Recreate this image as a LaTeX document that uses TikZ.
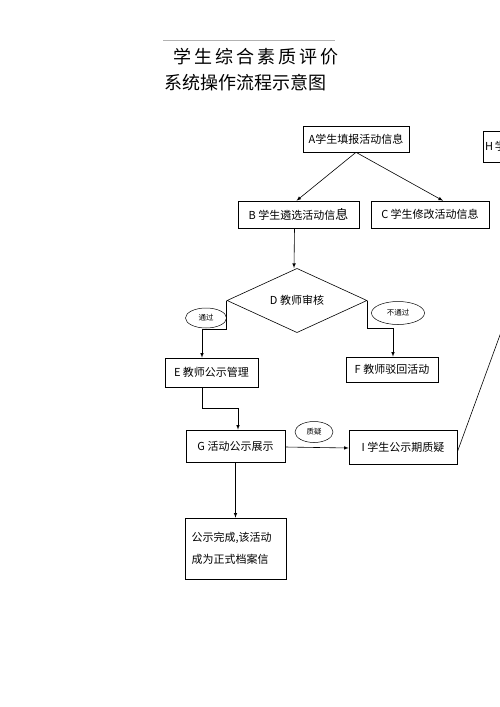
\documentclass[tikz,border=0pt]{standalone}
\usepackage{fontspec}
\setmainfont{Noto Sans CJK SC}
\usetikzlibrary{shapes.geometric, arrows}
\tikzstyle{process} = [rectangle, minimum width=100pt, minimum height=27pt, inner sep=0pt, text centered, draw=black, line width=0.6pt, font=\fontsize{11}{13}\selectfont]
\tikzstyle{decision} = [diamond, minimum width=140pt, minimum height=55pt, inner sep=0pt, text centered, draw=black, line width=0.6pt, font=\fontsize{11}{13}\selectfont]
\tikzstyle{remark} = [ellipse, inner sep=0pt, draw=black, line width=0.5pt, font=\fontsize{7.5}{9}\selectfont]
\tikzstyle{arrow} = [line width=0.6pt,->,>=latex]

\begin{document}
\begin{tikzpicture}[x=1pt, y=-1pt]
			\useasboundingbox (0,0) rectangle (500,707);
			\clip (0,0) rectangle (500,707);
			% title
			\draw [gray!60, line width=0.5pt] (163,40) -- (335,40);
			\node (title1) [anchor=west, inner sep=0pt, font=\fontsize{18}{20}\selectfont] at (173,57) {学\,生\,综\,合\,素\,质\,评\,价};
			\node (title2) [anchor=west, inner sep=0pt, font=\fontsize{18}{20}\selectfont] at (164,83) {系统操作流程示意图};

			\node (a) [process, minimum width=106pt, minimum height=26pt] at (356,139) {A学生填报活动信息};
			\node (b) [process, minimum width=121pt] at (298.5,214.5) {B 学生遴选活动信{\fontsize{13}{13}\selectfont 息}};
			\node (c) [process, minimum width=118pt] at (430,214.5) {C 学生修改活动信息};
			\node (h) [process, minimum width=160pt, minimum height=31pt, text width=156pt, align=left] at (563,146.5) {H\,学生};
			\node (d) [decision] at (297,300.5) {D 教师审核};
			\node (pass) [remark, minimum width=41pt, minimum height=20pt] at (206,318) {通过};
			\node (fail) [remark, minimum width=53pt, minimum height=23pt] at (398,313) {不通过};
			\node (e) [process, minimum width=93pt, minimum height=29pt] at (211.5,372.5) {E 教师公示管理};
			\node (f) [process, minimum width=92pt, minimum height=25pt] at (392,369.5) {F 教师驳回活动};
			\node (g) [process, minimum width=99pt, minimum height=32pt] at (235.5,446) {G 活动公示展示};
			\node (i) [process, minimum width=108pt, minimum height=34pt] at (403,447) {I 学生公示期质疑};
			\node (doubt) [remark, minimum width=38pt, minimum height=21pt] at (314,432) {质疑};
			\node (done) [process, minimum width=101pt, minimum height=61pt, text width=88pt, align=left] at (235.5,548.5) {公示完成,该活动\\[9pt]成为正式档案信};

			\draw [arrow] (a.south) -- ([xshift=-2pt]b.north);
			\draw [arrow] (a.south) -- ([xshift=13pt]c.north);
			\draw [arrow] ([xshift=-4pt]b.south) -- ([xshift=-3pt]d.north);
			\draw [arrow] (d.west) -- ++(0,29) -| ([xshift=-9.5pt]e.north);
			\draw [arrow] (d.east) -- ++(0,28) -| ([xshift=1pt]f.north);
			\draw [arrow] ([xshift=-9.5pt]e.south) -- ++(0,21) -| ([xshift=2.5pt]g.north);
			\draw [arrow] ([yshift=-1pt]g.east) -- ([yshift=-1pt]i.west);
			\draw [arrow] (g.south) -- (done.north);
			\draw [arrow] ([yshift=-5pt]i.east) -- (h.south);
		\end{tikzpicture}
\end{document}
